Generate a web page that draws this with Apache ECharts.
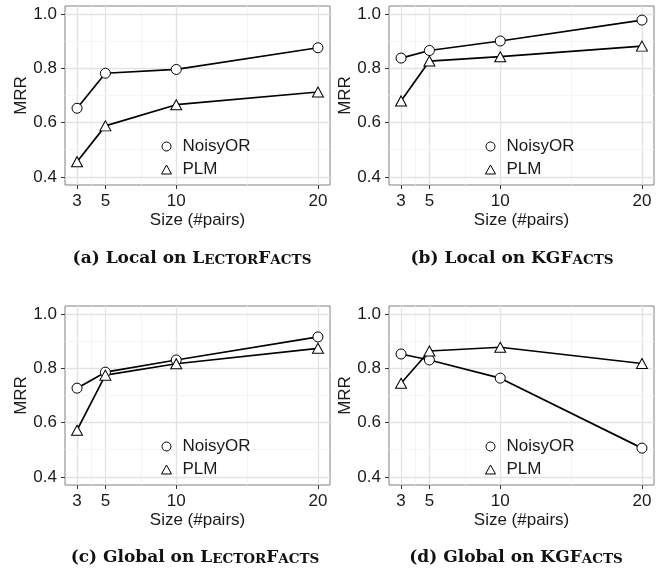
<!DOCTYPE html>
<html>
<head>
<meta charset="utf-8">
<script src="https://cdn.jsdelivr.net/npm/echarts@6/dist/echarts.min.js"></script>
<style>
  html, body { margin: 0; padding: 0; background: #fff; }
  #chart { width: 663px; height: 569px; }
</style>
</head>
<body>
<div id="chart"></div>
<script>
// x values (pair counts) shared by all four panels
const sizes = [3, 5, 10, 20];
const yTicks = [0.4, 0.6, 0.8, 1.0];
const yMinorTicks = [0.5, 0.7, 0.9];
const xMinorTicks = [4, 7.5, 15];
const seriesNames = ["NoisyOR", "PLM"];

// MRR
const localLectorNoisyOR = [0.653, 0.782, 0.796, 0.876];
const localLectorPLM = [0.456, 0.588, 0.666, 0.713];
const localKGNoisyOR = [0.838, 0.866, 0.901, 0.978];
const localKGPLM = [0.68, 0.827, 0.843, 0.882];
const globalLectorNoisyOR = [0.727, 0.786, 0.831, 0.916];
const globalLectorPLM = [0.572, 0.775, 0.817, 0.874];
const globalKGNoisyOR = [0.853, 0.831, 0.764, 0.506];
const globalKGPLM = [0.745, 0.864, 0.878, 0.818];

// captions, big-cap / small-cap pieces
const captions = [
  "{b|(a) Local on L}{s|ECTOR}{b|F}{s|ACTS}",
  "{b|(b) Local on KGF}{s|ACTS}",
  "{b|(c) Global on L}{s|ECTOR}{b|F}{s|ACTS}",
  "{b|(d) Global on KGF}{s|ACTS}",
];

const panelData = [
  [localLectorNoisyOR, localLectorPLM],
  [localKGNoisyOR, localKGPLM],
  [globalLectorNoisyOR, globalLectorPLM],
  [globalKGNoisyOR, globalKGPLM],
];

const panels = [
  { left: 65, top: 6, legendLeft: 161, legendTop: 138, capX: 192, capY: 259 },
  { left: 389, top: 6, legendLeft: 485, legendTop: 138, capX: 512, capY: 259 },
  { left: 65, top: 306, legendLeft: 161, legendTop: 438, capX: 195, capY: 558 },
  { left: 389, top: 306, legendLeft: 485, legendTop: 438, capX: 516, capY: 558 },
];

const sans = "Liberation Sans, Arial, sans-serif";
const serif = "DejaVu Serif, serif";
const textColor = "#1a1a1a";

let chart = echarts.init(document.getElementById("chart"), null, { renderer: "canvas" });

let grids = [], xAxes = [], yAxes = [], legends = [], series = [], graphics = [];

panels.forEach(function (p, i) {
  grids.push({
    left: p.left,
    top: p.top,
    width: 265,
    height: 179,
    show: true,
    borderColor: "#808080",
    borderWidth: 1,
    backgroundColor: "transparent",
  });

  xAxes.push({
    type: "value",
    gridIndex: i,
    min: 2.15,
    max: 20.85,
    axisLine: { show: false },
    axisTick: {
      show: true,
      customValues: sizes,
      length: 4,
      lineStyle: { color: "#333", width: 1 },
    },
    axisLabel: {
      customValues: sizes,
      margin: 8,
      fontSize: 17,
      fontFamily: sans,
      color: textColor,
    },
    splitLine: { show: false },
    name: "Size (#pairs)",
    nameLocation: "middle",
    nameGap: 27,
    nameTextStyle: { fontSize: 17, fontFamily: sans, color: textColor },
  });

  yAxes.push({
    type: "value",
    gridIndex: i,
    min: 0.37,
    max: 1.03,
    axisLine: { show: false },
    axisTick: {
      show: true,
      customValues: yTicks,
      length: 4,
      lineStyle: { color: "#333", width: 1 },
    },
    axisLabel: {
      customValues: yTicks,
      margin: 8,
      fontSize: 17,
      fontFamily: sans,
      color: textColor,
      formatter: function (v) {
        return v.toFixed(1);
      },
    },
    splitLine: { show: false },
    name: "MRR",
    nameLocation: "middle",
    nameGap: 34,
    nameTextStyle: { fontSize: 17, fontFamily: sans, color: textColor },
  });

  // background grid, major + minor like ggplot theme_bw
  let gridLines = [];
  sizes.forEach(function (x) {
    gridLines.push({ xAxis: x, lineStyle: { type: "solid", color: "#e3e3e3", width: 1.4 } });
  });
  xMinorTicks.forEach(function (x) {
    gridLines.push({ xAxis: x, lineStyle: { type: "solid", color: "#f2f2f2", width: 0.8 } });
  });
  yTicks.forEach(function (y) {
    gridLines.push({ yAxis: y, lineStyle: { type: "solid", color: "#e3e3e3", width: 1.4 } });
  });
  yMinorTicks.forEach(function (y) {
    gridLines.push({ yAxis: y, lineStyle: { type: "solid", color: "#f2f2f2", width: 0.8 } });
  });

  series.push({
    type: "line",
    xAxisIndex: i,
    yAxisIndex: i,
    data: [],
    silent: true,
    z: 0,
    markLine: {
      silent: true,
      z: 0,
      symbol: ["none", "none"],
      label: { show: false },
      lineStyle: { type: "solid" },
      emphasis: { disabled: true },
      animation: false,
      data: gridLines,
    },
  });

  panelData[i].forEach(function (vals, k) {
    series.push({
      name: seriesNames[k],
      type: "line",
      xAxisIndex: i,
      yAxisIndex: i,
      data: sizes.map(function (x, j) {
        return [x, vals[j]];
      }),
      symbol: k === 0 ? "circle" : "triangle",
      symbolSize: k === 0 ? 10 : [11, 10],
      lineStyle: { color: "#000", width: 1.7 },
      itemStyle: { color: "#fff", borderColor: "#000", borderWidth: 1 },
      emphasis: { disabled: true },
      z: 3,
      animation: false,
    });
  });

  legends.push({
    left: p.legendLeft,
    top: p.legendTop,
    orient: "vertical",
    padding: 0,
    itemGap: 6,
    itemWidth: 10,
    itemHeight: 9,
    selectedMode: false,
    data: [
      { name: "NoisyOR", icon: "circle" },
      { name: "PLM", icon: "triangle" },
    ],
    itemStyle: { color: "#fff", borderColor: "#000", borderWidth: 1 },
    textStyle: {
      fontSize: 17,
      fontFamily: sans,
      color: textColor,
      padding: [0, 0, 0, 6],
    },
  });

  graphics.push({
    type: "text",
    x: p.capX,
    y: p.capY,
    style: {
      text: captions[i],
      align: "center",
      verticalAlign: "middle",
      rich: {
        b: { fontSize: 17, fontWeight: "bold", fontFamily: serif, fill: "#111", verticalAlign: "bottom" },
        s: { fontSize: 13.5, fontWeight: "bold", fontFamily: serif, fill: "#111", verticalAlign: "bottom" },
      },
    },
  });
});

let option = {
  animation: false,
  grid: grids,
  xAxis: xAxes,
  yAxis: yAxes,
  legend: legends,
  series: series,
  graphic: graphics,
};

if (option && typeof option === "object") {
  chart.setOption(option);
}
window.addEventListener("resize", chart.resize);
</script>
</body>
</html>
